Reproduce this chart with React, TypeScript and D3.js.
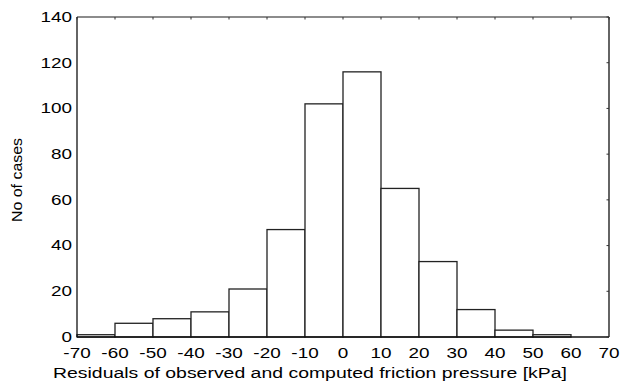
import React from "react";
import * as d3 from "d3";

// Histogram bins (lower edges, width 10 kPa) and case counts
const binStarts = [-70, -60, -50, -40, -30, -20, -10, 0, 10, 20, 30, 40, 50, 60];
const counts = [1, 6, 8, 11, 21, 47, 102, 116, 65, 33, 12, 3, 1, 0];
const xTicks = [-70, -60, -50, -40, -30, -20, -10, 0, 10, 20, 30, 40, 50, 60, 70];
const yTicks = [0, 20, 40, 60, 80, 100, 120, 140];

const W = 620;
const H = 387;
const M = { left: 77, right: 11, top: 17, bottom: 50 };
const FONT = "'Liberation Sans', Arial, sans-serif";
const TICK_SX = 1.35; // labels are set in a wide face

export default function App() {
  const x = d3.scaleLinear().domain([-70, 70]).range([M.left, W - M.right]);
  const y = d3.scaleLinear().domain([0, 140]).range([H - M.bottom, M.top]);
  const x0 = M.left, x1 = W - M.right, y0 = H - M.bottom, y1 = M.top;

  return (
    <svg
      width={W}
      height={H}
      style={{ position: "absolute", left: 0, top: 0, background: "#fff" }}
      fontFamily={FONT}
    >
      {/* bars */}
      {binStarts.map((b, i) =>
        counts[i] > 0 ? (
          <rect
            key={b}
            x={x(b)}
            y={y(counts[i])}
            width={x(b + 10) - x(b)}
            height={y(0) - y(counts[i])}
            fill="#fff"
            stroke="#222"
            strokeWidth={1.3}
          />
        ) : null
      )}
      {/* frame */}
      <line x1={x0} x2={x1} y1={y1} y2={y1} stroke="#666" strokeWidth={1.6} />
      <line x1={x0} x2={x0} y1={y1} y2={y0} stroke="#111" strokeWidth={1.3} />
      <line x1={x1} x2={x1} y1={y1} y2={y0} stroke="#111" strokeWidth={1.3} />
      <line x1={x0} x2={x1} y1={y0} y2={y0} stroke="#111" strokeWidth={1.3} />
      {/* inward ticks on top and right */}
      {xTicks.map((t) => (
        <line key={"tt" + t} x1={x(t)} x2={x(t)} y1={y1} y2={y1 + 2.5} stroke="#333" strokeWidth={1} />
      ))}
      {yTicks.map((t) => (
        <line key={"rt" + t} x1={x1} x2={x1 - 2.5} y1={y(t)} y2={y(t)} stroke="#333" strokeWidth={1} />
      ))}
      {/* y tick labels */}
      {yTicks.map((t) => (
        <text
          key={"yl" + t}
          transform={`translate(${x0 - 5}, ${y(t)}) scale(${TICK_SX}, 1)`}
          dy="0.35em"
          textAnchor="end"
          fontSize={14}
          fill="#000"
        >
          {t}
        </text>
      ))}
      {/* x tick labels */}
      {xTicks.map((t) => (
        <text
          key={"xl" + t}
          transform={`translate(${x(t)}, ${y0 + 16}) scale(${TICK_SX}, 1)`}
          dy="0.35em"
          textAnchor="middle"
          fontSize={14}
          fill="#000"
        >
          {t}
        </text>
      ))}
      {/* axis titles */}
      <text
        x={53}
        y={y0 + 36}
        dy="0.35em"
        fontSize={15.5}
        textLength={514}
        lengthAdjust="spacingAndGlyphs"
        fill="#000"
      >
        Residuals of observed and computed friction pressure [kPa]
      </text>
      <text
        transform={`translate(17, 180) rotate(-90)`}
        dy="0.35em"
        x={-42}
        fontSize={15}
        textLength={84}
        lengthAdjust="spacingAndGlyphs"
        fill="#000"
      >
        No of cases
      </text>
    </svg>
  );
}
